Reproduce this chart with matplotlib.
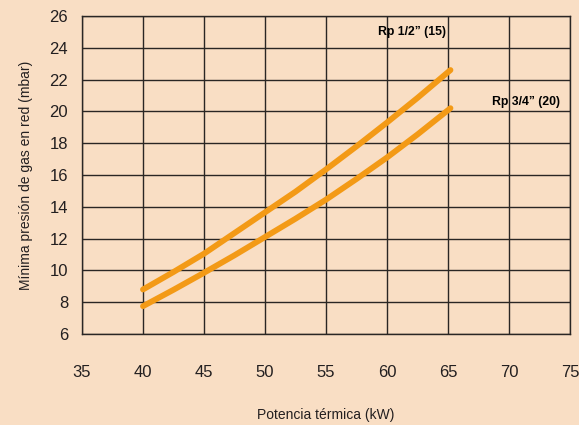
import matplotlib
matplotlib.use("Agg")
import matplotlib.pyplot as plt

# potencia (kW) vs presion minima (mbar)
potencia = [40, 42.5, 45, 47.5, 50, 52.5, 55, 57.5, 60, 62.5, 65.2]
rp_12 = [8.8, 9.9, 11.05, 12.35, 13.65, 14.95, 16.35, 17.8, 19.3, 20.85, 22.6]   # Rp 1/2" (15)
rp_34 = [7.75, 8.78, 9.85, 10.95, 12.1, 13.25, 14.45, 15.75, 17.1, 18.55, 20.2]  # Rp 3/4" (20)

x_ticks = [35, 40, 45, 50, 55, 60, 65, 70, 75]
y_ticks = [6, 8, 10, 12, 14, 16, 18, 20, 22, 24, 26]

BG = "#F9DEC4"
ORANGE = "#F39A16"
GRID = "#2a2624"
TXT = "#231f20"

plt.rcParams["font.family"] = ["Liberation Sans", "DejaVu Sans"]

fig = plt.figure(figsize=(5.79, 4.25), dpi=100, facecolor=BG)
ax = fig.add_axes([0.1416, 0.2141, 0.8429, 0.7483], facecolor=BG)

ax.plot(potencia, rp_12, color=ORANGE, lw=4.2, solid_capstyle="round", zorder=3)
ax.plot(potencia, rp_34, color=ORANGE, lw=4.2, solid_capstyle="round", zorder=3)

ax.set_xlim(35, 75); ax.set_ylim(6, 26)
ax.set_xticks(x_ticks); ax.set_yticks(y_ticks)
ax.grid(True, color=GRID, lw=1.0)
ax.set_axisbelow(True)
for s in ax.spines.values():
    s.set_color(GRID); s.set_linewidth(1.0)
ax.tick_params(length=0, labelsize=12, colors=TXT)
ax.tick_params(axis="x", pad=22)
ax.tick_params(axis="y", pad=10)

ax.set_ylabel("Mínima presión de gas en red (mbar)", fontsize=10, color=TXT, labelpad=12)
fig.text(0.563, 0.023, "Potencia térmica (kW)", fontsize=10, color=TXT,
         ha="center", va="center")

ax.text(59.3, 25.0, "Rp 1/2\u201d (15)", fontsize=8.8, fontweight="bold",
        ha="left", va="center")
ax.text(68.6, 20.6, "Rp 3/4\u201d (20)", fontsize=8.8, fontweight="bold",
        ha="left", va="center")

fig.savefig("out.png", dpi=100, facecolor=BG)
